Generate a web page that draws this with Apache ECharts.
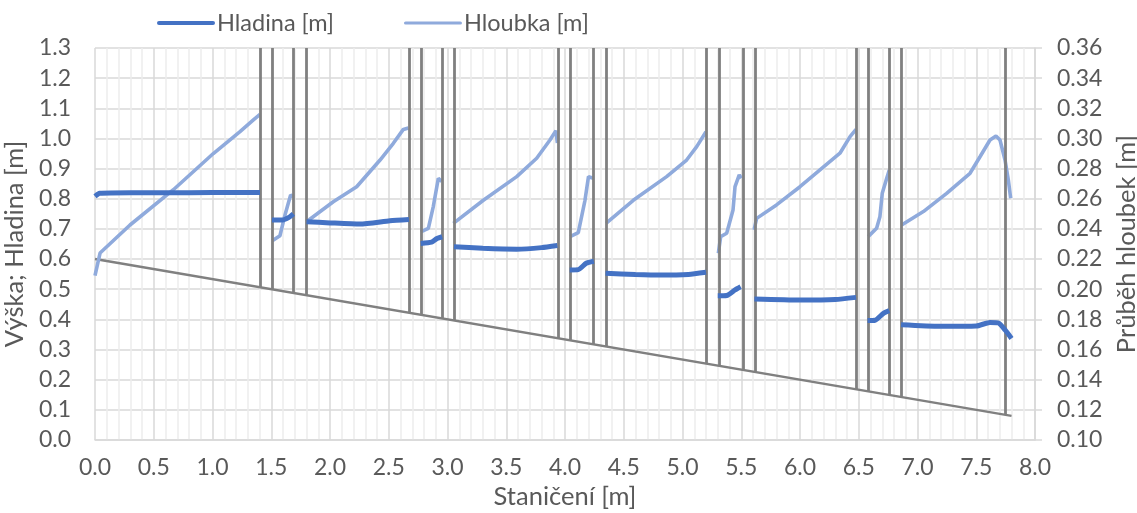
<!DOCTYPE html>
<html>
<head>
<meta charset="utf-8">
<script src="https://cdn.jsdelivr.net/npm/echarts@6/dist/echarts.min.js"></script>
<style>
html,body{margin:0;padding:0;background:#fff;}
#chart{width:1137px;height:513px;}
</style>
</head>
<body>
<div id="chart"></div>
<script>
// ---- data (x = Staničení [m]) ----
const xTicks = [0,0.5,1,1.5,2,2.5,3,3.5,4,4.5,5,5.5,6,6.5,7,7.5,8];

// Hladina [m] (left axis), segments separated by null
const hladina = [
  [0,0.808],[0.04,0.818],[0.3,0.82],[0.8,0.82],[1.2,0.821],[1.404,0.821], null,
  [1.506,0.73],[1.6,0.73],[1.65,0.738],[1.688,0.75], null,
  [1.80,0.724],[2.0,0.72],[2.255,0.716],[2.51,0.727],[2.672,0.731], null,
  [2.772,0.652],[2.865,0.656],[2.91,0.668],[2.955,0.674], null,
  [3.055,0.641],[3.3,0.636],[3.589,0.633],[3.8,0.638],[3.935,0.645], null,
  [4.04,0.564],[4.113,0.565],[4.18,0.586],[4.245,0.593], null,
  [4.345,0.553],[4.6,0.549],[4.81,0.547],[5.05,0.549],[5.2,0.556], null,
  [5.30,0.478],[5.376,0.479],[5.447,0.4975],[5.495,0.508], null,
  [5.612,0.4677],[6.0,0.4643],[6.3,0.466],[6.477,0.473], null,
  [6.575,0.396],[6.638,0.397],[6.71,0.42],[6.76,0.429], null,
  [6.86,0.382],[7.19,0.377],[7.5,0.378],[7.617,0.39],[7.69,0.388],[7.745,0.365],[7.8,0.337]
];

// Hloubka [m] (right axis)
const hloubka = [
  [0,0.209],[0.043,0.224],[0.298,0.2426],[0.667,0.266],[1.007,0.29],[1.234,0.3045],[1.348,0.3123],[1.404,0.316], null,
  [1.509,0.2322],[1.574,0.2355],[1.617,0.2493],[1.645,0.257],[1.665,0.2625],[1.688,0.2614], null,
  [1.80,0.2448],[2.028,0.258],[2.227,0.268],[2.426,0.2857],[2.539,0.2968],[2.624,0.306],[2.667,0.307], null,
  [2.772,0.238],[2.837,0.2404],[2.879,0.2548],[2.922,0.2736],[2.95,0.2714], null,
  [3.05,0.2437],[3.305,0.259],[3.589,0.2747],[3.759,0.2869],[3.872,0.299],[3.923,0.3052],[3.935,0.297], null,
  [4.043,0.2349],[4.113,0.2375],[4.17,0.259],[4.2,0.2747],[4.24,0.2736], null,
  [4.349,0.2437],[4.581,0.259],[4.865,0.2747],[5.035,0.2857],[5.121,0.2946],[5.2,0.3045], null,
  [5.305,0.2238],[5.325,0.2349],[5.376,0.2371],[5.43,0.2526],[5.447,0.268],[5.483,0.2758],[5.5,0.2736], null,
  [5.609,0.2393],[5.631,0.247],[5.8,0.2559],[6.0,0.268],[6.17,0.2791],[6.34,0.2902],[6.426,0.3012],[6.477,0.306], null,
  [6.58,0.2349],[6.652,0.2404],[6.68,0.248],[6.70,0.2636],[6.738,0.2736],[6.76,0.2791], null,
  [6.865,0.2426],[7.05,0.2515],[7.248,0.2636],[7.447,0.2769],[7.532,0.2879],[7.617,0.299],[7.668,0.3016],[7.702,0.299],[7.745,0.2857],[7.773,0.2725],[7.793,0.2603]
];

// channel bed (left axis)
const bedX = [0, 7.8];
const bedY = [0.6, 0.08];

// structure (vertical) lines positions
const structX = [1.404,1.506,1.685,1.796, 2.672,2.774,2.953,3.055, 3.94,4.043,4.238,4.349,
                 5.2,5.311,5.515,5.617, 6.477,6.579,6.757,6.86, 7.745];
const structTop = 1.3;

// ---- helpers ----
function splitSegments(arr){
  const out=[]; let cur=[];
  arr.forEach(p=>{ if(p===null){ if(cur.length) out.push(cur); cur=[]; } else cur.push(p); });
  if(cur.length) out.push(cur);
  return out;
}
function bedAt(x){
  for(let i=0;i<bedX.length-1;i++){
    if(x>=bedX[i] && x<=bedX[i+1]){
      const t=(x-bedX[i])/(bedX[i+1]-bedX[i]);
      return bedY[i]+t*(bedY[i+1]-bedY[i]);
    }
  }
  return bedY[bedY.length-1];
}

const FONT = 'Lato';
const TXT = '#595959';
const GRID = '#D9D9D9';
const C1 = '#4472C4';
const C2 = '#8FAADC';
const GRAY = '#808080';

const series = [];
// bed + structures
series.push({
  name:'bed', type:'line', yAxisIndex:0, showSymbol:false, symbol:'none', silent:true,
  data: bedX.map((x,i)=>[x,bedY[i]]),
  lineStyle:{color:GRAY,width:2.5}, z:2,
  markLine:{
    silent:true, symbol:['none','none'], label:{show:false},
    lineStyle:{color:GRAY,width:2.8,type:'solid'},
    data: structX.map(x=>[{coord:[x,bedAt(x)]},{coord:[x,structTop]}])
  }
});
splitSegments(hloubka).forEach(seg=>{
  series.push({name:'Hloubka [m]', type:'line', yAxisIndex:1, symbol:'none', showSymbol:false,
    data:seg, lineStyle:{color:C2,width:3.6}, itemStyle:{color:C2}, z:4});
});
splitSegments(hladina).forEach(seg=>{
  series.push({name:'Hladina [m]', type:'line', yAxisIndex:0, symbol:'none', showSymbol:false,
    data:seg, lineStyle:{color:C1,width:5}, itemStyle:{color:C1}, smooth:0.2, z:5});
});

const chart = echarts.init(document.getElementById('chart'), null, {renderer:'canvas'});
chart.setOption({
  animation:false,
  backgroundColor:'#fff',
  textStyle:{fontFamily:FONT},
  legend:{
    data:[
      {name:'Hladina [m]', icon:'path://M2,0 L56,0 A2,2 0 0 1 56,4 L2,4 A2,2 0 0 1 2,0 Z', itemStyle:{color:C1}},
      {name:'Hloubka [m]', icon:'path://M2,0 L56,0 A1.6,1.6 0 0 1 56,3.2 L2,3.2 A1.6,1.6 0 0 1 2,0 Z', itemStyle:{color:C2}}
    ],
    left:152, top:6,
    itemWidth:58, itemHeight:5, itemGap:70,
    textStyle:{fontFamily:FONT, fontSize:23.5, color:TXT, padding:[0,0,0,-3]}
  },
  grid:{left:95, right:102, top:48, bottom:73, containLabel:false, outerBoundsMode:'none'},
  xAxis:{
    type:'value', min:0, max:8, interval:0.5,
    name:'Staničení [m]', nameLocation:'middle', nameGap:44,
    nameTextStyle:{fontFamily:FONT, fontSize:25.5, color:TXT},
    axisLine:{show:true, lineStyle:{color:GRID, width:1.5}},
    axisTick:{show:false},
    axisLabel:{fontFamily:FONT, fontSize:23, color:TXT, margin:16, formatter:v=>v.toFixed(1)},
    splitLine:{show:true, lineStyle:{color:GRID, width:1.5}},
    minorTick:{show:false, splitNumber:5},
    minorSplitLine:{show:true, lineStyle:{color:'#EDEDED', width:1.5}}
  },
  yAxis:[
    {
      type:'value', min:0, max:1.3, interval:0.1, position:'left',
      name:'Výška; Hladina [m]', nameLocation:'middle', nameGap:61, nameRotate:90,
      nameTextStyle:{fontFamily:FONT, fontSize:25.5, color:TXT},
      axisLine:{show:false}, axisTick:{show:false},
      axisLabel:{fontFamily:FONT, fontSize:23, color:TXT, margin:24, formatter:v=>v.toFixed(1)},
      splitLine:{show:true, lineStyle:{color:GRID, width:1.5}}
    },
    {
      type:'value', min:0.10, max:0.36, interval:0.02, position:'right',
      name:'Průběh hloubek [m]', nameLocation:'middle', nameGap:66, nameRotate:90,
      nameTextStyle:{fontFamily:FONT, fontSize:25.5, color:TXT},
      axisLine:{show:true, lineStyle:{color:GRID, width:1.5}},
      axisTick:{show:true, inside:false, length:7, lineStyle:{color:GRID, width:1.5}},
      axisLabel:{fontFamily:FONT, fontSize:23, color:TXT, margin:22, formatter:v=>v.toFixed(2)},
      splitLine:{show:false}
    }
  ],
  series: series
});
</script>
</body>
</html>
